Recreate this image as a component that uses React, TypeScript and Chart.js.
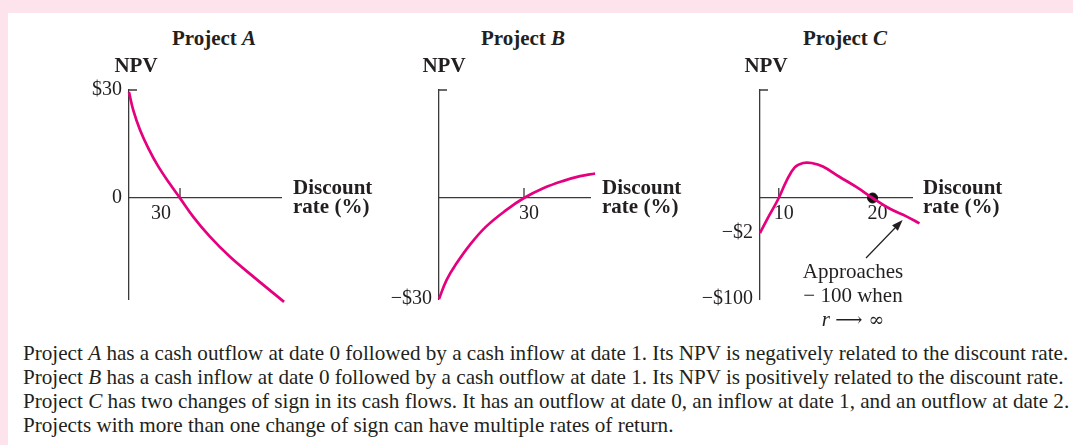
import React, { useEffect, useRef } from "react";
import { Chart, registerables } from "chart.js";

Chart.register(...registerables);

// ---------- data ----------
// Project A: NPV falls as the discount rate rises
const aRate = [0, 2.5, 6.5, 11.4, 17.2, 24.1, 30, 37.8, 47.6, 59.4, 73.1, 91.2];
const aNpv = [29.4, 24.4, 18.9, 13.8, 8.8, 3.9, 0, -5.2, -10.7, -16.3, -21.8, -28.8];
const aXTicks = [30];
const aXLabels = ["30"];
const aTickMarks = [30];
const aYTicks = [0, 30];
const aYLabels = ["0", "$30"];
const aXRange = [0, 89.4];
const aYRange = [-28, 30];

// Project B: NPV rises with the discount rate
const bRate = [0, 2.7, 6.2, 10.9, 16.6, 23.7, 30, 36.8, 43.9, 49.8, 55.1];
const bNpv = [-30, -24.3, -19.4, -13.9, -8.5, -3.6, 0, 2.9, 5.1, 6.5, 7.3];
const bXTicks = [30];
const bXLabels = ["30"];
const bTickMarks = [30];
const bYTicks = [-30];
const bYLabels = ["\u2212$30"];
const bXRange = [0, 53.3];
const bYRange = [-30, 32.1];

// Project C: two sign changes, two IRRs
const cRate = [8, 9, 10, 10.8, 11.7, 12.6, 13.5, 14.7, 16.5, 18.3, 20, 21.8, 23.6, 25];
const cNpv = [-2, -0.98, 0, 0.95, 1.75, 2.0, 2.0, 1.8, 1.2, 0.62, 0, -0.6, -1.05, -1.45];
const cXTicks = [10, 20];
const cXLabels = ["10", "20"];
const cTickMarks = [10];
const cYTicks = [-2, -5.77];
const cYLabels = ["\u2212$2", "\u2212$100"];
const cXRange = [8, 24.2];
const cYRange = [-5.77, 6.17];
const cDotRate = [20];
const cDotNpv = [0];
const cArrowFrom = [19.3, -3.43];
const cArrowTo = [23.2, -1.26];

// ---------- styles ----------
const MAGENTA = "#e5007e";
const INK = "#231f20";
const AXIS = "#3a3a3a";
const FONT = "'Liberation Serif', 'Times New Roman', Times, serif";

type Spec = {
  rate: number[];
  npv: number[];
  xTicks: number[];
  xLabels: string[];
  tickMarks: number[];
  yTicks: number[];
  yLabels: string[];
  xRange: number[];
  yRange: number[];
  labelOffset: number;
  dot?: { rate: number[]; npv: number[] };
  arrow?: { from: number[]; to: number[] };
};

function makePlugin(spec: Spec) {
  return {
    id: "axisMarks",
    beforeDatasetsDraw(chart: any) {
      const { ctx, chartArea, scales } = chart;
      const x = scales.x;
      const y = scales.y;
      const y0 = y.getPixelForValue(0);
      ctx.save();
      ctx.strokeStyle = AXIS;
      ctx.lineWidth = 1.3;
      ctx.beginPath();
      ctx.moveTo(chartArea.left, chartArea.top);
      ctx.lineTo(chartArea.left + 8, chartArea.top);
      spec.tickMarks.forEach((v) => {
        const px = x.getPixelForValue(v);
        ctx.moveTo(px, y0);
        ctx.lineTo(px, y0 - 10);
      });
      ctx.stroke();
      ctx.restore();
    },
    afterDatasetsDraw(chart: any) {
      if (!spec.arrow) return;
      const { ctx, scales } = chart;
      const x1 = scales.x.getPixelForValue(spec.arrow.from[0]);
      const y1 = scales.y.getPixelForValue(spec.arrow.from[1]);
      const x2 = scales.x.getPixelForValue(spec.arrow.to[0]);
      const y2 = scales.y.getPixelForValue(spec.arrow.to[1]);
      const ang = Math.atan2(y2 - y1, x2 - x1);
      const len = 11;
      const half = 4;
      const bx = x2 - len * Math.cos(ang);
      const by = y2 - len * Math.sin(ang);
      ctx.save();
      ctx.strokeStyle = INK;
      ctx.fillStyle = INK;
      ctx.lineWidth = 1.2;
      ctx.beginPath();
      ctx.moveTo(x1, y1);
      ctx.lineTo(bx, by);
      ctx.stroke();
      ctx.beginPath();
      ctx.moveTo(x2, y2);
      ctx.lineTo(bx + half * Math.sin(ang), by - half * Math.cos(ang));
      ctx.lineTo(bx - half * Math.sin(ang), by + half * Math.cos(ang));
      ctx.closePath();
      ctx.fill();
      ctx.restore();
    },
  };
}

function makeConfig(spec: Spec, yWidth: number, pad: { top: number; right: number; bottom: number }) {
  const datasets: any[] = [
    {
      type: "line",
      data: spec.rate.map((r, i) => ({ x: r, y: spec.npv[i] })),
      borderColor: MAGENTA,
      borderWidth: 2.7,
      pointRadius: 0,
      tension: 0.4,
      fill: false,
      clip: false,
    },
  ];
  if (spec.dot) {
    datasets.push({
      type: "scatter",
      data: spec.dot.rate.map((r, i) => ({ x: r, y: spec.dot!.npv[i] })),
      backgroundColor: "#111",
      borderColor: "#111",
      pointRadius: 5,
      clip: false,
    });
  }
  const tickFont = { family: FONT, size: 20, lineHeight: 1.2 };
  return {
    type: "line",
    data: { datasets },
    options: {
      animation: false,
      responsive: false,
      events: [],
      layout: { padding: { left: 0, top: pad.top, right: pad.right, bottom: pad.bottom } },
      plugins: {
        legend: { display: false },
        tooltip: { enabled: false },
        title: { display: false },
      },
      scales: {
        x: {
          type: "linear",
          min: spec.xRange[0],
          max: spec.xRange[1],
          position: { y: 0 },
          grid: { display: true, drawOnChartArea: false, drawTicks: false },
          border: { display: true, color: AXIS, width: 1.3 },
          afterBuildTicks: (s: any) => {
            s.ticks = spec.xTicks.map((v) => ({ value: v }));
          },
          ticks: {
            autoSkip: false,
            maxRotation: 0,
            padding: 4,
            labelOffset: spec.labelOffset,
            color: INK,
            font: tickFont,
            callback: (_v: any, i: number) => spec.xLabels[i],
          },
        },
        y: {
          type: "linear",
          min: spec.yRange[0],
          max: spec.yRange[1],
          position: "left",
          grid: { display: true, drawOnChartArea: false, drawTicks: false },
          border: { display: true, color: AXIS, width: 1.3 },
          afterBuildTicks: (s: any) => {
            s.ticks = spec.yTicks.map((v) => ({ value: v }));
          },
          afterFit: (s: any) => {
            s.width = yWidth;
          },
          ticks: {
            autoSkip: false,
            padding: 7,
            color: INK,
            font: tickFont,
            callback: (_v: any, i: number) => spec.yLabels[i],
          },
        },
      },
    },
    plugins: [makePlugin(spec)],
  };
}

function MiniChart(props: {
  spec: Spec;
  left: number;
  top: number;
  width: number;
  height: number;
  yWidth: number;
  pad: { top: number; right: number; bottom: number };
}) {
  const ref = useRef<HTMLCanvasElement | null>(null);
  useEffect(() => {
    if (!ref.current) return;
    const chart = new Chart(ref.current, makeConfig(props.spec, props.yWidth, props.pad) as any);
    return () => chart.destroy();
  }, []);
  return (
    <canvas
      ref={ref}
      width={props.width}
      height={props.height}
      style={{
        position: "absolute",
        left: props.left,
        top: props.top,
        width: props.width,
        height: props.height,
      }}
    />
  );
}

const specA: Spec = {
  rate: aRate, npv: aNpv, xTicks: aXTicks, xLabels: aXLabels, tickMarks: aTickMarks,
  yTicks: aYTicks, yLabels: aYLabels, xRange: aXRange, yRange: aYRange, labelOffset: -19,
};
const specB: Spec = {
  rate: bRate, npv: bNpv, xTicks: bXTicks, xLabels: bXLabels, tickMarks: bTickMarks,
  yTicks: bYTicks, yLabels: bYLabels, xRange: bXRange, yRange: bYRange, labelOffset: 5,
};
const specC: Spec = {
  rate: cRate, npv: cNpv, xTicks: cXTicks, xLabels: cXLabels, tickMarks: cTickMarks,
  yTicks: cYTicks, yLabels: cYLabels, xRange: cXRange, yRange: cYRange, labelOffset: 5,
  dot: { rate: cDotRate, npv: cDotNpv },
  arrow: { from: cArrowFrom, to: cArrowTo },
};

const base: React.CSSProperties = {
  position: "absolute",
  fontFamily: FONT,
  fontSize: 21,
  color: INK,
  whiteSpace: "nowrap",
};

const SYM = "'DejaVu Serif', 'DejaVu Sans', serif";

function Centered(props: { cx: number; top: number; lh: number; bold?: boolean; children: any }) {
  return (
    <div
      style={{
        ...base,
        left: props.cx - 100,
        width: 200,
        top: props.top,
        lineHeight: props.lh + "px",
        textAlign: "center",
        fontWeight: props.bold ? "bold" : "normal",
      }}
    >
      {props.children}
    </div>
  );
}

function RateLabel(props: { left: number }) {
  return (
    <div style={{ ...base, left: props.left, top: 178, lineHeight: "19px", fontWeight: "bold" }}>
      Discount
      <br />
      rate (%)
    </div>
  );
}

export default function App() {
  return (
    <div
      style={{
        position: "absolute",
        left: 0,
        top: 0,
        width: 1073,
        height: 445,
        overflow: "hidden",
        background: "#fce3ec",
      }}
    >
      <div style={{ position: "absolute", left: 8, top: 13, width: 1065, height: 432, background: "#ffffff" }} />

      <MiniChart spec={specA} left={40} top={60} width={270} height={260} yWidth={89} pad={{ top: 30, right: 29, bottom: 21 }} />
      <MiniChart spec={specB} left={350} top={60} width={270} height={260} yWidth={89} pad={{ top: 30, right: 30, bottom: 21 }} />
      <MiniChart spec={specC} left={670} top={60} width={270} height={260} yWidth={90} pad={{ top: 30, right: 28, bottom: 21 }} />

      <Centered cx={214} top={26} lh={24} bold>
        Project <i>A</i>
      </Centered>
      <Centered cx={523} top={26} lh={24} bold>
        Project <i>B</i>
      </Centered>
      <Centered cx={845} top={26} lh={24} bold>
        Project <i>C</i>
      </Centered>

      <Centered cx={136} top={53} lh={24} bold>NPV</Centered>
      <Centered cx={444} top={53} lh={24} bold>NPV</Centered>
      <Centered cx={766} top={53} lh={24} bold>NPV</Centered>

      <RateLabel left={293} />
      <RateLabel left={602} />
      <RateLabel left={923} />

      <Centered cx={853} top={259} lh={24}>
        Approaches
        <br />
        {"\u2212 100 when"}
        <br />
        <i>r</i>{" "}
        <span style={{ fontFamily: SYM, fontSize: 19 }}>{"\u27f6 \u221e"}</span>
      </Centered>

      <div style={{ ...base, fontSize: 21.15, left: 23, top: 341, lineHeight: "24px" }}>
        Project <i>A</i> has a cash outflow at date 0 followed by a cash inflow at date 1. Its NPV is negatively related to the discount rate.
        <br />
        Project <i>B</i> has a cash inflow at date 0 followed by a cash outflow at date 1. Its NPV is positively related to the discount rate.
        <br />
        Project <i>C</i> has two changes of sign in its cash flows. It has an outflow at date 0, an inflow at date 1, and an outflow at date 2.
        <br />
        Projects with more than one change of sign can have multiple rates of return.
      </div>
    </div>
  );
}
